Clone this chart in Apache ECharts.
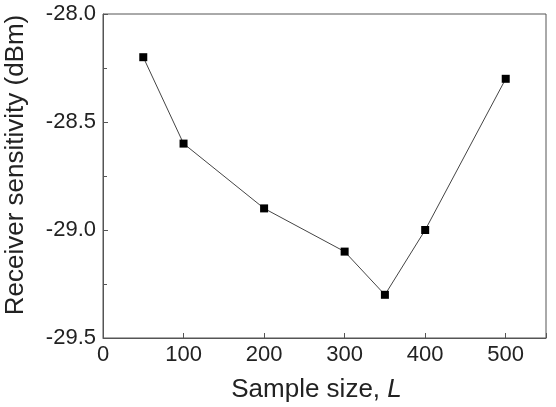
<!DOCTYPE html>
<html>
<head>
<meta charset="utf-8">
<script src="https://cdn.jsdelivr.net/npm/echarts@6/dist/echarts.min.js"></script>
<style>html,body{margin:0;padding:0;background:#fff}#main{width:556px;height:407px}</style>
</head>
<body>
<div id="main"></div>
<script>
var sampleSize = [50, 100, 200, 300, 350, 400, 500];
var sensitivity = [-28.2, -28.6, -28.9, -29.1, -29.3, -29.0, -28.3];

var chart = echarts.init(document.getElementById('main'));
var font = 'Liberation Sans';
var pts = sampleSize.map(function (x, i) { return [x, sensitivity[i]]; });

chart.setOption({
    animation: false,
    grid: {left: 103, right: 10, top: 14, bottom: 69, show: true, borderColor: '#555', borderWidth: 1,
        outerBoundsMode: 'none', containLabel: false},
    xAxis: {
        type: 'value', min: 0, max: 550, interval: 100,
        axisLine: {lineStyle: {color: '#555'}},
        axisTick: {inside: true, length: 5, lineStyle: {color: '#555'}},
        axisLabel: {color: '#222', fontSize: 22, fontFamily: font, margin: 6,
            formatter: function (v) { return v > 500 ? '' : v; }},
        splitLine: {show: false},
        name: '{a|Sample size, }{b|L}', nameLocation: 'middle', nameGap: 39,
        nameTextStyle: {padding: [0, 16, 0, 0], rich: {a: {fontSize: 26, fontFamily: font, color: '#222'},
            b: {fontSize: 26, fontFamily: font, fontStyle: 'italic', color: '#222'}}}
    },
    yAxis: {
        type: 'value', min: -29.5, max: -28.0, interval: 0.5,
        axisLine: {show: true, lineStyle: {color: '#555'}},
        axisTick: {show: true, inside: true, length: 5, lineStyle: {color: '#555'}},
        minorTick: {show: true, splitNumber: 2, length: 4, lineStyle: {color: '#555'}},
        axisLabel: {color: '#222', fontSize: 22, fontFamily: font, margin: 7,
            formatter: function (v) { return v.toFixed(1); }},
        splitLine: {show: false},
        name: 'Receiver sensitivity (dBm)', nameLocation: 'middle', nameGap: 74,
        nameTextStyle: {fontSize: 26, fontFamily: font, color: '#222', padding: [0, 0, 0, 22]}
    },
    series: [{
        type: 'line', data: pts,
        symbol: 'rect', symbolSize: 8,
        itemStyle: {color: '#000'},
        lineStyle: {color: '#444', width: 1}
    }]
});
</script>
</body>
</html>
